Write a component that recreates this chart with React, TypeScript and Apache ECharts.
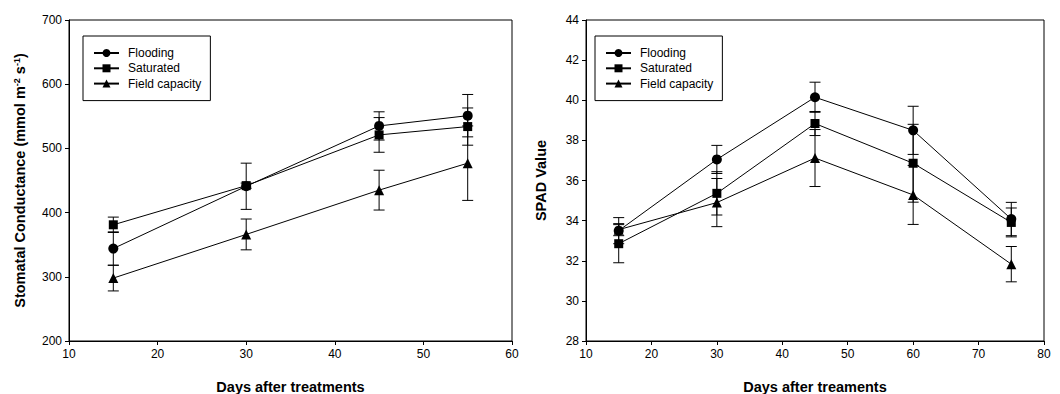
import React, { useEffect, useRef } from "react";
import * as echarts from "echarts";

const seriesNames = ["Flooding", "Saturated", "Field capacity"];
const symbols = ["circle", "rect", "triangle"];
const symbolSizes = [10, 9, 10];

// Left chart: stomatal conductance
const days1 = [15, 30, 45, 55];
const flood1 = [344, 441, 535, 551];
const floodErr1 = [26, 36, 22, 33];
const sat1 = [381, 442, 521, 534];
const satErr1 = [12, 4, 27, 29];
const fc1 = [298, 366, 435, 477];
const fcErr1 = [20, 24, 31, 58];

// Right chart: SPAD value
const days2 = [15, 30, 45, 60, 75];
const flood2 = [33.5, 37.05, 40.15, 38.5, 34.08];
const floodErr2 = [0.65, 0.7, 0.75, 1.2, 0.83];
const sat2 = [32.85, 35.36, 38.84, 36.86, 33.91];
const satErr2 = [0.95, 1.08, 0.6, 1.94, 0.72];
const fc2 = [33.55, 34.9, 37.12, 35.28, 31.83];
const fcErr2 = [0.3, 1.2, 1.42, 1.47, 0.88];

const FONT = "'Liberation Sans', Arial, sans-serif";

function errRender(params: any, api: any) {
  const x = api.value(0);
  const lo = api.coord([x, api.value(1)]);
  const hi = api.coord([x, api.value(2)]);
  const w = 5.5;
  const style = { stroke: "#000", lineWidth: 1 };
  return {
    type: "group",
    children: [
      { type: "line", shape: { x1: lo[0], y1: lo[1], x2: hi[0], y2: hi[1] }, style },
      { type: "line", shape: { x1: lo[0] - w, y1: lo[1], x2: lo[0] + w, y2: lo[1] }, style },
      { type: "line", shape: { x1: hi[0] - w, y1: hi[1], x2: hi[0] + w, y2: hi[1] }, style },
    ],
  };
}

export default function App() {
  const ref = useRef<HTMLDivElement>(null);
  useEffect(() => {
    if (!ref.current) return;
    const chart = echarts.init(ref.current, null, { renderer: "svg" });
    const groups1 = [
      [flood1, floodErr1],
      [sat1, satErr1],
      [fc1, fcErr1],
    ];
    const groups2 = [
      [flood2, floodErr2],
      [sat2, satErr2],
      [fc2, fcErr2],
    ];
    const series: any[] = [];
    const addSeries = (days: number[], groups: any[], idx: number) => {
      groups.forEach((g: any, i: number) => {
        const vals = g[0] as number[];
        const errs = g[1] as number[];
        series.push({
          type: "custom",
          name: "err" + idx + "_" + i,
          xAxisIndex: idx,
          yAxisIndex: idx,
          renderItem: errRender,
          data: days.map((d, k) => [d, vals[k] - errs[k], vals[k] + errs[k]]),
          z: 1,
          silent: true,
        });
        series.push({
          type: "line",
          name: seriesNames[i],
          xAxisIndex: idx,
          yAxisIndex: idx,
          data: days.map((d, k) => [d, vals[k]]),
          symbol: symbols[i],
          symbolSize: symbolSizes[i],
          lineStyle: { color: "#000", width: 1 },
          itemStyle: { color: "#000", borderColor: "#000", borderWidth: 0 },
          z: 3,
        });
      });
    };
    addSeries(days1, groups1, 0);
    addSeries(days2, groups2, 1);

    const titleStyle = { color: "#000", fontSize: 14.5, fontWeight: "bold", fontFamily: FONT };
    const axisCommon = {
      type: "value",
      axisLine: { show: true, lineStyle: { color: "#000", width: 1 } },
      axisTick: { show: true, inside: false, length: 4, lineStyle: { color: "#000" } },
      splitLine: { show: false },
      axisLabel: { color: "#000", fontSize: 12, fontFamily: FONT, margin: 7 },
      nameTextStyle: titleStyle,
    };

    const legendCommon = {
      orient: "vertical",
      top: 36,
      data: seriesNames,
      borderColor: "#000",
      borderWidth: 1,
      borderRadius: 0,
      padding: [11, 9, 11, 10],
      itemWidth: 25,
      itemHeight: 10,
      itemGap: 3.3,
      textStyle: { color: "#000", fontSize: 12, fontFamily: FONT, padding: [0, 0, 0, 4] },
      selectedMode: false,
    };

    const gridCommon = {
      top: 20,
      height: 321,
      show: true,
      borderColor: "#000",
      borderWidth: 1,
      backgroundColor: "transparent",
      containLabel: false,
      outerBoundsMode: "none",
    };

    chart.setOption({
      animation: false,
      backgroundColor: "#fff",
      grid: [
        { ...gridCommon, left: 69, width: 443 },
        { ...gridCommon, left: 586, width: 458 },
      ],
      legend: [
        { ...legendCommon, left: 83 },
        { ...legendCommon, left: 595 },
      ],
      xAxis: [
        { ...axisCommon, gridIndex: 0, min: 10, max: 60, interval: 10, name: "Days after treatments", nameLocation: "middle", nameGap: 38 },
        { ...axisCommon, gridIndex: 1, min: 10, max: 80, interval: 10, name: "Days after treaments", nameLocation: "middle", nameGap: 38 },
      ],
      yAxis: [
        {
          ...axisCommon,
          gridIndex: 0,
          min: 200,
          max: 700,
          interval: 100,
          name: "Stomatal Conductance (mmol m{sup|-2} s{sup|-1})",
          nameLocation: "middle",
          nameGap: 41,
          nameTextStyle: {
            ...titleStyle,
            rich: {
              sup: { fontSize: 9, fontWeight: "bold", fontFamily: FONT, color: "#000", verticalAlign: "top", padding: [0, 0, 7, 0] },
            },
          },
        },
        { ...axisCommon, gridIndex: 1, min: 28, max: 44, interval: 2, name: "SPAD Value", nameLocation: "middle", nameGap: 37.5 },
      ],
      series,
    });
    return () => chart.dispose();
  }, []);
  return <div ref={ref} style={{ position: "fixed", left: 0, top: 0, width: 1060, height: 394, background: "#fff" }} />;
}
